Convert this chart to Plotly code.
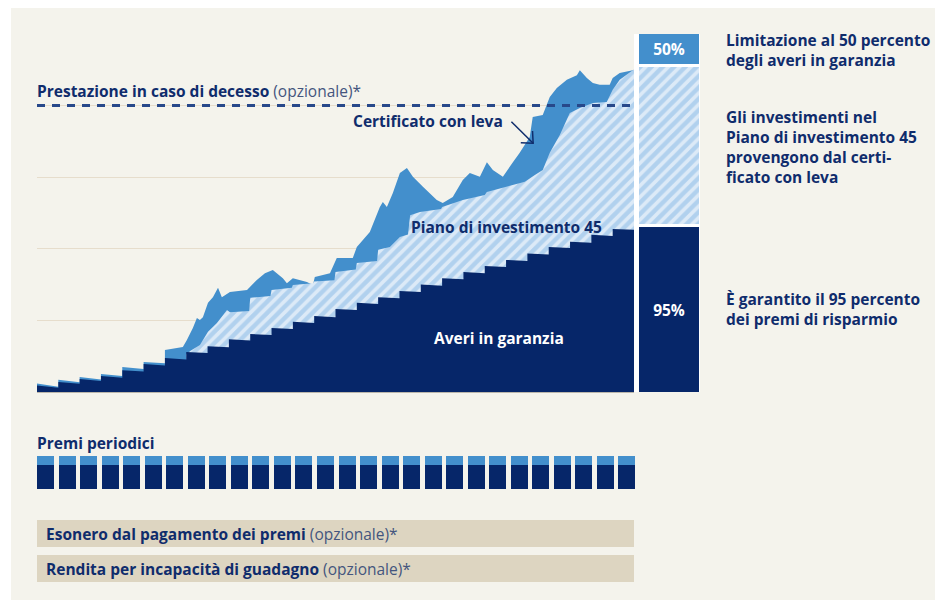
import plotly.graph_objects as go

# page is rendered with an 8px body margin: the figure covers page pixels 8..943 x 8..603
OFF = 8
W, H = 943 - OFF, 603 - OFF

# ---------------- data ----------------
years = list(range(28))
# guaranteed assets (staircase): level at start and end of each year
guaranteed_start = [1.8, 2.8, 3.6, 4.5, 6.1, 7.8, 9.5, 11.2, 12.8, 14.7, 16.2, 17.9, 19.6, 21.2,
                    23.2, 24.9, 26.5, 28.2, 30.0, 31.8, 33.5, 35.2, 36.9, 38.7, 40.5, 42.0, 43.9, 45.5]
guaranteed_end = [1.2, 2.3, 3.1, 4.0, 5.7, 7.4, 9.1, 10.9, 12.5, 14.4, 15.9, 17.6, 19.3, 20.9,
                  22.9, 24.6, 26.2, 27.9, 29.7, 31.5, 33.2, 34.9, 36.6, 38.4, 40.2, 41.7, 43.6, 45.3]

# leveraged certificate: top of the stack
certificate_x = [0, 1, 1, 2, 2, 3, 3, 4, 4, 5, 5, 6, 6, 6.56, 6.84, 7.03, 7.31, 7.5, 7.64, 7.78,
                 8.02, 8.25, 8.49, 8.67, 9.05, 9.85, 10.31, 10.69, 11.06, 11.53, 11.72, 12.0, 12.66,
                 12.94, 13.03, 13.74, 14.06, 14.81, 15.0, 15.61, 16.08, 16.22, 16.41, 16.69, 17.02,
                 17.35, 17.63, 18.1, 18.75, 19.03, 19.5, 19.97, 20.3, 20.77, 21.1, 21.38, 21.85,
                 22.32, 22.64, 23.11, 23.25, 23.72, 24.05, 24.38, 24.85, 25.32, 25.46, 25.79, 26.07,
                 26.39, 26.86, 27.0, 27.33, 27.94, 28.0]
certificate_top = [2.4, 1.5, 3.4, 2.7, 4.2, 3.5, 5.0, 4.5, 7.0, 6.4, 8.4, 8.0, 11.7, 12.3, 12.6, 14.5,
                   17.9, 20.7, 20.1, 20.9, 24.9, 26.5, 29.1, 26.5, 27.9, 28.5, 31.3, 33.2, 34.1, 31.8,
                   30.4, 31.8, 30.7, 29.9, 32.1, 33.2, 37.4, 37.4, 40.5, 44.7, 51.7, 53.1, 51.7, 55.6,
                   61.2, 62.6, 60.1, 57.3, 53.6, 52.8, 54.5, 59.2, 61.2, 60.1, 64.2, 62.0, 60.1, 64.2,
                   66.8, 71.2, 76.8, 77.4, 82.4, 84.9, 87.2, 88.5, 89.9, 87.7, 86.3, 85.8, 85.8, 87.7,
                   89.1, 89.9, 90.0]

# investment plan 45: top of the hatched layer
plan_x = [7.0, 7.2, 7.64, 8.02, 8.44, 8.91, 9.05, 9.95, 10.0, 10.95, 11.0, 11.95, 12.0, 12.95, 13.0,
          13.95, 14.0, 14.95, 15.0, 15.95, 16.0, 16.55, 17.02, 17.4, 17.5, 17.96, 18.95, 19.0, 19.97,
          21.0, 21.1, 21.85, 22.88, 23.35, 23.72, 24.05, 24.52, 24.99, 25.46, 26.07, 26.72, 27.0,
          27.33, 27.94, 28.0]
plan_top = [10.5, 11.5, 13.1, 16.8, 19.3, 22.9, 22.3, 22.6, 26.3, 26.8, 28.5, 29.1, 29.9, 30.4, 30.9,
            31.2, 33.5, 34.2, 36.0, 36.6, 39.7, 40.5, 43.3, 44.0, 49.4, 50.3, 51.1, 51.7, 53.6,
            55.0, 55.9, 57.0, 58.7, 60.6, 62.0, 66.8, 71.8, 77.9, 79.3, 80.7, 81.0, 84.4,
            87.2, 89.9, 90.0]

death_benefit = 80

# right-hand summary bar
summary_bottom = [0, 46.9, 91.5]
summary_top = [46.1, 90.9, 100]
summary_labels = ["95%", "", "50%"]

# periodic premiums (savings part / risk part)
premium_years = list(range(28))
premium_savings = [24, 24, 24, 24, 24, 24, 24, 24, 24, 24, 24, 24, 24, 24,
                   24, 24, 24, 24, 24, 24, 24, 24, 24, 24, 24, 24, 24, 24]
premium_other = [9, 9, 9, 9, 9, 9, 9, 9, 9, 9, 9, 9, 9, 9,
                 9, 9, 9, 9, 9, 9, 9, 9, 9, 9, 9, 9, 9, 9]

# ---------------- styles ----------------
NAVY = "#062669"
MID = "#438fcc"
HATCH_FG = "#85b7e5"
HATCH_BG = "#dceaf7"
TEXT = "#0f2c6c"
SOFT = "#44557e"
PANEL = "#f4f3ec"
GRID = "#e6ddcc"
ROW = "#ddd5c1"
FONT = "Open Sans"
FS = 15.5

def px(x):
    return (x - OFF) / W

def py(y):
    return 1 - (y - OFF) / H

# staircase path for guaranteed assets
g_x, g_y = [], []
for i, yr in enumerate(years):
    g_x += [yr, yr + 1]
    g_y += [guaranteed_start[i], guaranteed_end[i]]

hatch = dict(shape="/", fgcolor=HATCH_FG, bgcolor=HATCH_BG, size=8, solidity=0.55)

fig = go.Figure()

fig.add_trace(go.Scatter(x=certificate_x, y=certificate_top, mode="lines", fill="tozeroy",
                         fillcolor=MID, line=dict(width=0, color=MID), hoverinfo="skip"))
fig.add_trace(go.Scatter(x=plan_x, y=plan_top, mode="lines", fill="tozeroy",
                         fillcolor=HATCH_BG, line=dict(width=0, color=HATCH_BG),
                         fillpattern=hatch, hoverinfo="skip"))
fig.add_trace(go.Scatter(x=g_x, y=g_y, mode="lines", fill="tozeroy", fillcolor=NAVY,
                         line=dict(width=0, color=NAVY), hoverinfo="skip"))

# summary bar
seg_styles = [
    dict(color=NAVY),
    dict(color=HATCH_BG, pattern=hatch),
    dict(color=MID),
]
for b, t, lab, st in zip(summary_bottom, summary_top, summary_labels, seg_styles):
    fig.add_trace(go.Bar(x=[0], y=[t - b], base=[b], width=1, xaxis="x3", yaxis="y3",
                         marker=dict(line=dict(width=0), **st),
                         text=[lab], textposition="inside", insidetextanchor="middle",
                         textfont=dict(color="white", size=FS, family=FONT, weight="bold"),
                         hoverinfo="skip"))

# premium blocks
fig.add_trace(go.Bar(x=premium_years, y=premium_savings, base=0, offset=0, width=0.79,
                     xaxis="x2", yaxis="y2", marker=dict(color=NAVY, line=dict(width=0)),
                     hoverinfo="skip"))
fig.add_trace(go.Bar(x=premium_years, y=premium_other, base=premium_savings, offset=0, width=0.79,
                     xaxis="x2", yaxis="y2", marker=dict(color=MID, line=dict(width=0)),
                     hoverinfo="skip"))

shapes = [
    dict(type="rect", xref="paper", yref="paper", x0=px(11), x1=px(935), y0=py(600), y1=py(7),
         fillcolor=PANEL, line=dict(width=0), layer="below"),
    dict(type="rect", xref="paper", yref="paper", x0=px(634), x1=px(700), y0=py(392), y1=py(34),
         fillcolor="white", line=dict(width=0), layer="below"),
    dict(type="rect", xref="paper", yref="paper", x0=px(37), x1=px(634), y0=py(547), y1=py(520),
         fillcolor=ROW, line=dict(width=0), layer="below"),
    dict(type="rect", xref="paper", yref="paper", x0=px(37), x1=px(634), y0=py(582), y1=py(555),
         fillcolor=ROW, line=dict(width=0), layer="below"),
    dict(type="line", xref="x domain", yref="y", x0=0, x1=1, y0=death_benefit, y1=death_benefit,
         line=dict(color="#27488a", width=3, dash="8px,7px"), layer="above"),
    # arrow to the certificate area
    dict(type="line", xref="x", yref="y", x0=22.25, y0=75.5, x1=23.27, y1=69.5,
         line=dict(color=TEXT, width=1.5)),
    dict(type="path", xref="x", yref="y", path="M 22.69,69.6 L 23.27,69.5 L 23.24,72.9",
         line=dict(color=TEXT, width=1.5)),
]

def ann(x, y, text, xanchor="left", color=TEXT, size=FS):
    return dict(x=x, y=y, xref="paper", yref="paper", text=text, showarrow=False, xanchor=xanchor,
                yanchor="middle", align="left", font=dict(family=FONT, size=size, color=color))

annotations = [
    ann(px(35), py(91), "<b>Prestazione in caso di decesso</b><span style='color:%s'> (opzionale)*</span>" % SOFT),
    ann(px(427.5), py(121), "<b>Certificato con leva</b>", xanchor="center"),
    ann(px(506.5), py(227), "<b>Piano di investimento 45</b>", xanchor="center"),
    ann(px(498.5), py(338), "<b>Averi in garanzia</b>", xanchor="center", color="white"),
    ann(px(724), py(50), "<b>Limitazione al 50 percento<br>degli averi in garanzia</b>"),
    ann(px(724), py(147), "<b>Gli investimenti nel<br>Piano di investimento 45<br>provengono dal certi-<br>ficato con leva</b>"),
    ann(px(724), py(309), "<b>È garantito il 95 percento<br>dei premi di risparmio</b>"),
    ann(px(35), py(443), "<b>Premi periodici</b>"),
    ann(px(44), py(533.5), "<b>Esonero dal pagamento dei premi</b><span style='color:%s'> (opzionale)*</span>" % SOFT),
    ann(px(44), py(569), "<b>Rendita per incapacità di guadagno</b><span style='color:%s'> (opzionale)*</span>" % SOFT),
]

fig.update_layout(
    width=W, height=H, margin=dict(l=0, r=0, t=0, b=0),
    paper_bgcolor="white", plot_bgcolor="rgba(0,0,0,0)",
    showlegend=False, barmode="overlay", bargap=0,
    font=dict(family=FONT, color=TEXT),
    xaxis=dict(domain=[px(37), px(634)], range=[0, 28], showgrid=False, zeroline=False,
               showticklabels=False, ticks="", showline=True, linecolor="#bbb6ab", linewidth=1),
    yaxis=dict(domain=[py(392), py(34)], range=[0, 100], dtick=20, showgrid=True, gridcolor=GRID,
               gridwidth=1, zeroline=False, showticklabels=False, ticks=""),
    xaxis2=dict(domain=[px(37), px(640)], range=[0, 28], visible=False, anchor="y2"),
    yaxis2=dict(domain=[py(489), py(456)], range=[0, 33], visible=False, anchor="x2"),
    xaxis3=dict(domain=[px(639), px(699)], range=[-0.5, 0.5], visible=False, anchor="y3"),
    yaxis3=dict(domain=[py(392), py(34)], range=[0, 100], visible=False, anchor="x3"),
    shapes=shapes, annotations=annotations,
)

fig.write_html("out.html")
